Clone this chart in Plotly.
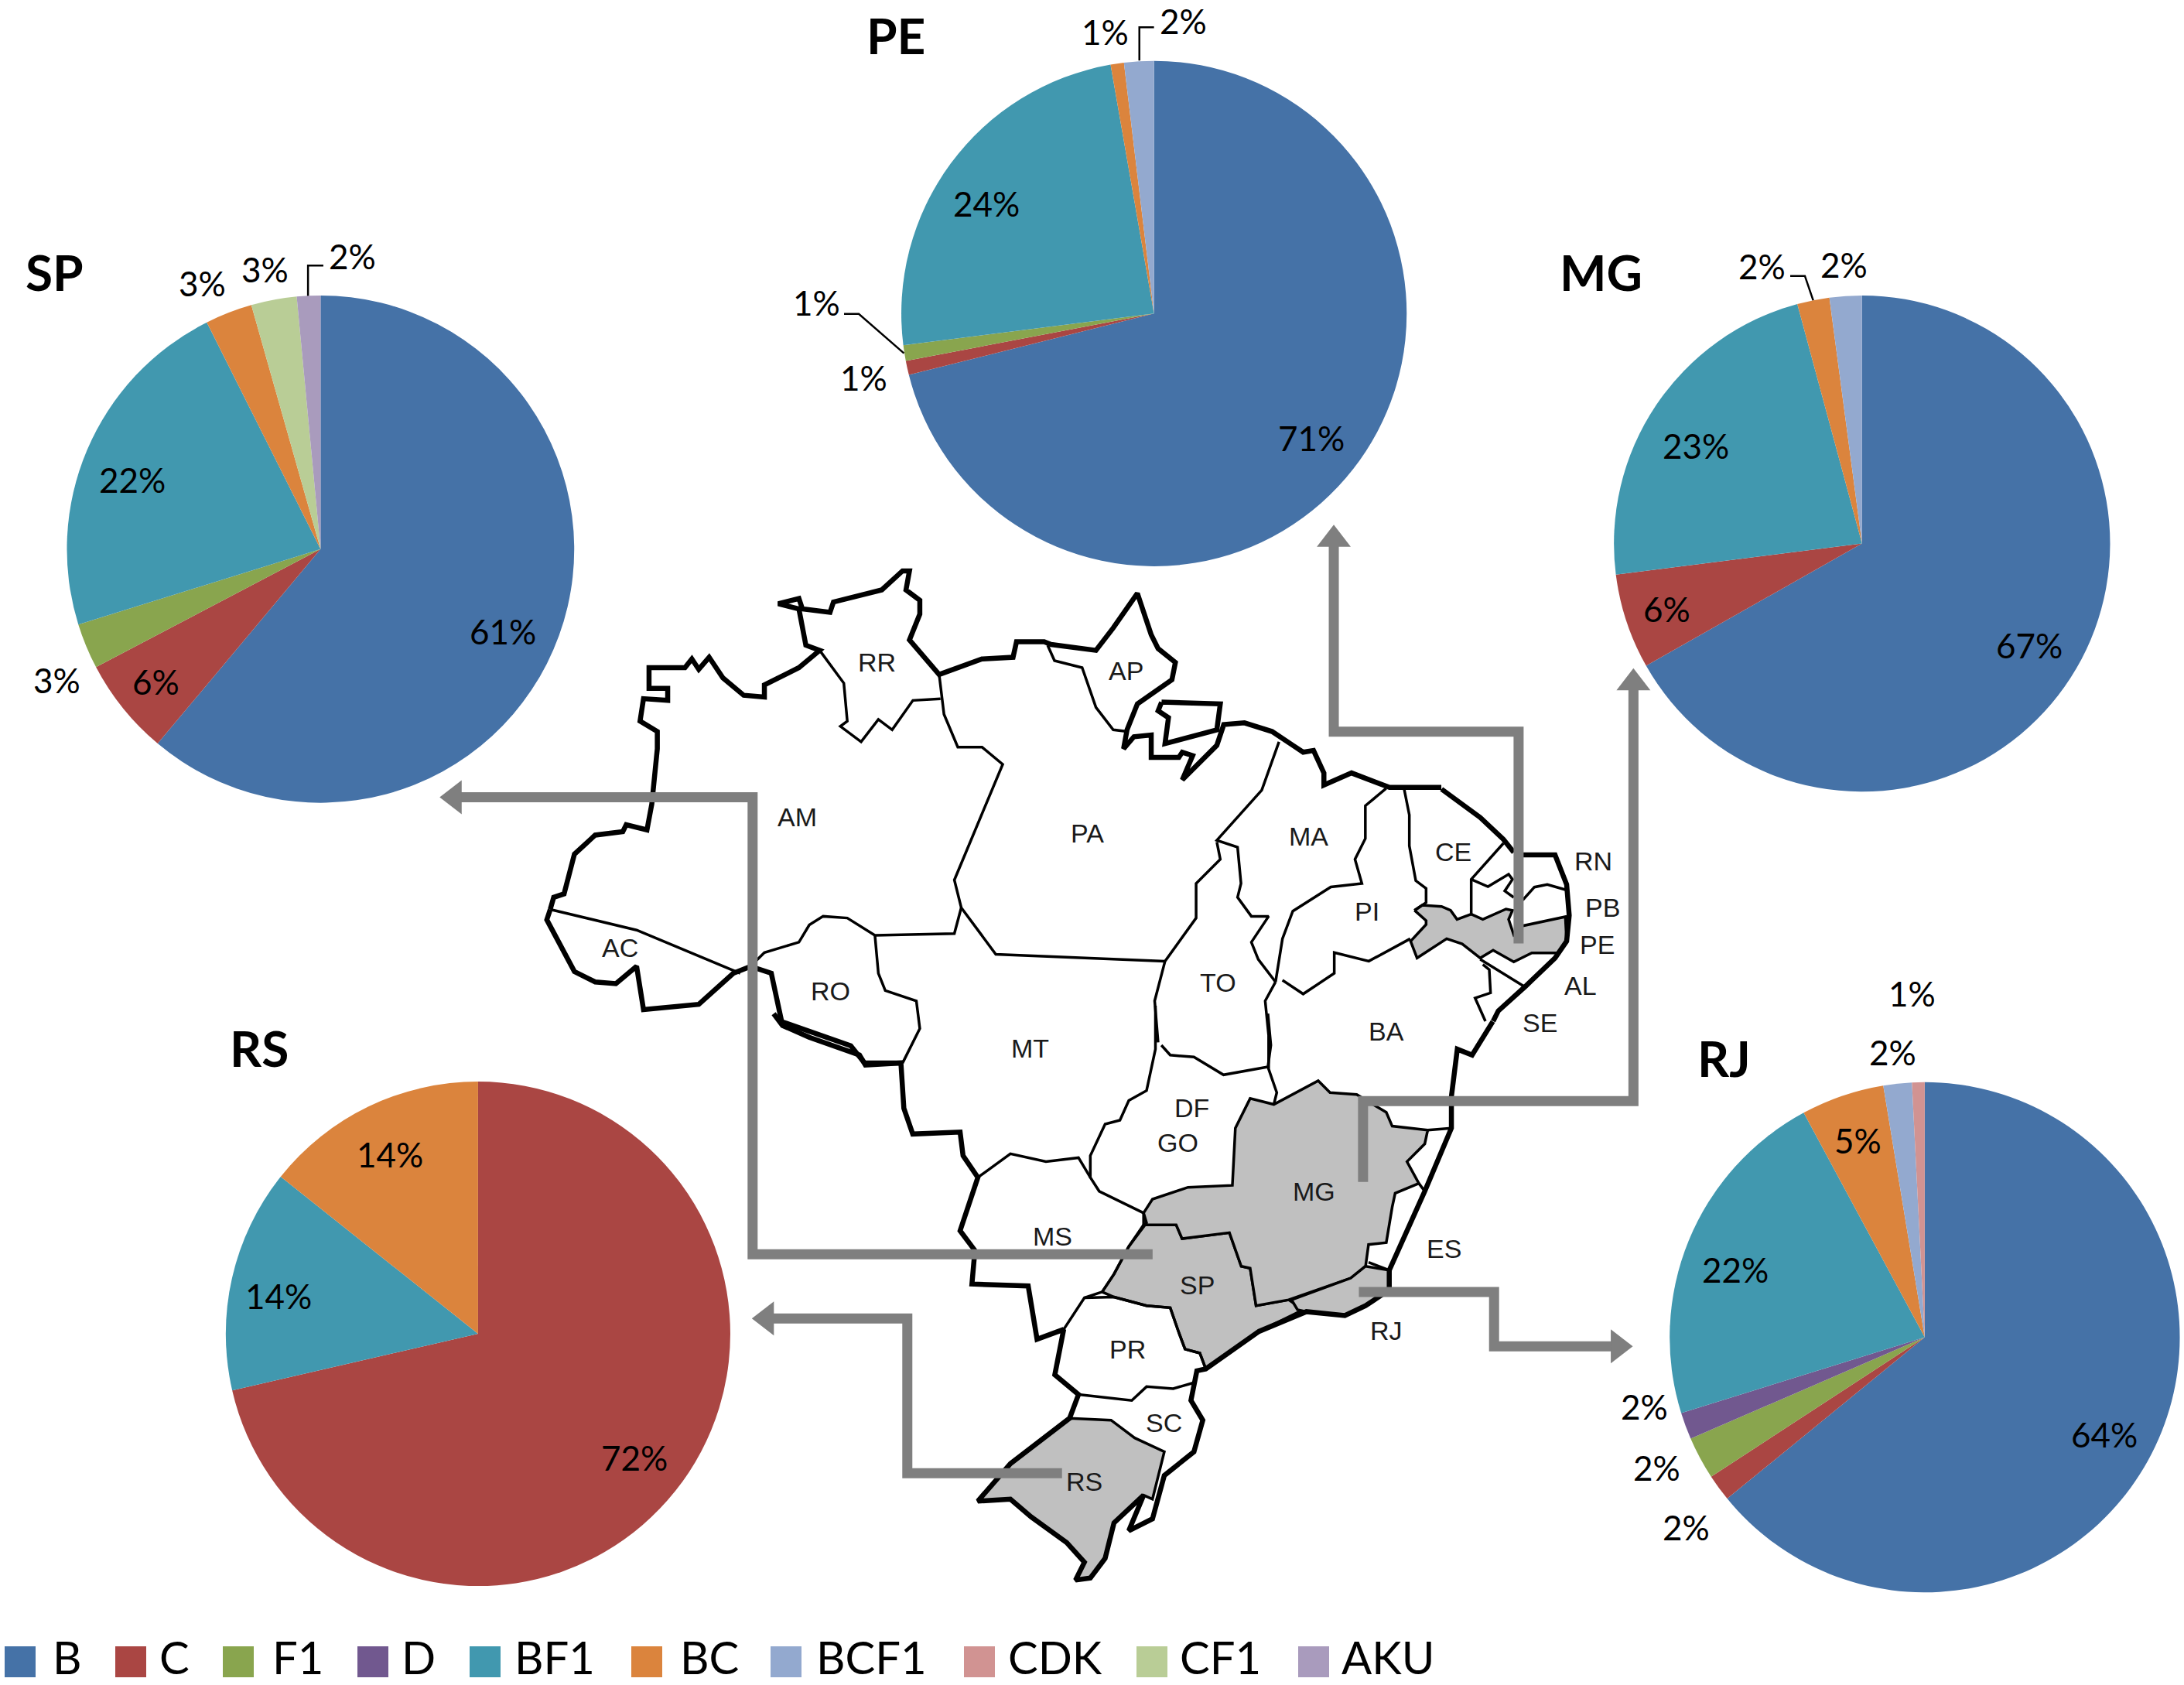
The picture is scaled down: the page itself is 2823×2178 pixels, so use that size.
import plotly.graph_objects as go

W, H = 2823, 2178
S = 1.8015  # overview coordinates to picture pixels

# Subtypes and colours
categories = ['B', 'C', 'F1', 'D', 'BF1', 'BC', 'BCF1', 'CDK', 'CF1', 'AKU']
colors = ['#4572A7', '#AA4643', '#89A54E', '#71588F', '#4198AF',
          '#DB843D', '#93A9CF', '#D19392', '#B9CD96', '#A99BBD']

# Slice sizes per state, same order as categories
sp_values = [61.1, 6.2, 2.9, 0, 22.4, 3.0, 0, 0, 2.9, 1.5]
pe_values = [71.1, 0.9, 1.0, 0, 24.25, 0.85, 1.9, 0, 0, 0]
mg_values = [66.8, 6.2, 0, 0, 22.8, 2.1, 2.1, 0, 0, 0]
rs_values = [0, 71.4, 0, 0, 14.3, 14.3, 0, 0, 0, 0]
rj_values = [64.1, 1.7, 2.7, 1.7, 21.93, 5.27, 1.8, 0.8, 0, 0]

# Percentages as printed on the chart
sp_printed = {'B': '61%', 'C': '6%', 'F1': '3%', 'BF1': '22%', 'BC': '3%', 'CF1': '3%', 'AKU': '2%'}
pe_printed = {'B': '71%', 'C': '1%', 'F1': '1%', 'BF1': '24%', 'BC': '1%', 'BCF1': '2%'}
mg_printed = {'B': '67%', 'C': '6%', 'BF1': '23%', 'BC': '2%', 'BCF1': '2%'}
rs_printed = {'C': '72%', 'BF1': '14%', 'BC': '14%'}
rj_printed = {'B': '64%', 'C': '2%', 'F1': '2%', 'D': '2%', 'BF1': '22%', 'BC': '5%', 'BCF1': '2%', 'CDK': '1%'}
printed = {'SP': sp_printed, 'PE': pe_printed, 'MG': mg_printed, 'RS': rs_printed, 'RJ': rj_printed}

# Pie placement: state, values, centre x, centre y, radius, title x, title y
pies = [
    ('SP', sp_values, 230, 394, 182, 39, 195),
    ('PE', pe_values, 828, 225, 181.3, 643, 25),
    ('MG', mg_values, 1336, 390, 178, 1149, 195),
    ('RS', rs_values, 343, 957, 181, 186, 752),
    ('RJ', rj_values, 1381, 959.5, 183, 1237, 759),
]

# Slice label positions, keyed by category
sp_labels = {'B': (361, 453), 'C': (112, 489), 'F1': (41, 488), 'BF1': (95, 344),
             'BC': (145, 203), 'CF1': (190, 193), 'AKU': (253, 184)}
pe_labels = {'B': (941, 314), 'C': (620, 271), 'F1': (586, 217), 'BF1': (708, 146),
             'BC': (793, 23), 'BCF1': (849, 14.8)}
mg_labels = {'B': (1456, 463), 'C': (1196, 437), 'BF1': (1217, 320),
             'BC': (1264, 191), 'BCF1': (1323, 190)}
rs_labels = {'C': (455, 1046), 'BF1': (200, 930), 'BC': (280, 828)}
rj_labels = {'B': (1510, 1029), 'C': (1210, 1096), 'F1': (1189, 1053), 'D': (1180, 1009),
             'BF1': (1245, 911), 'BC': (1333, 818), 'BCF1': (1358, 755), 'CDK': (1372, 713)}
label_sets = {'SP': sp_labels, 'PE': pe_labels, 'MG': mg_labels, 'RS': rs_labels, 'RJ': rj_labels}

# Leader lines (overview coordinates)
leaders = [
    [(221, 213), (221, 190.6), (232, 190.6)],
    [(648.6, 253.5), (616.2, 225.2), (605.6, 225.2)],
    [(817.5, 43.5), (817.5, 19.5), (828, 19.5)],
    [(1301, 215.6), (1295, 198), (1284.5, 198)],
]

# Legend: swatch left edge, text left edge in picture pixels
legend_swatch_x = [6, 149, 288, 462, 607, 816, 996, 1246, 1469, 1678]
legend_text_x = [66, 204, 350, 517, 663, 877, 1053, 1301, 1523, 1732]

# Gray arrows (overview coordinates), last point is the arrow tip
arrows = [
    [(827, 900), (540, 900), (540, 572), (316, 572)],
    [(1089.6, 677), (1089.6, 525), (957, 525), (957, 377)],
    [(978, 848), (978, 790), (1172, 790), (1172, 480)],
    [(975, 927), (1072, 927), (1072, 966), (1171, 966)],
    [(762, 1057), (651, 1057), (651, 946), (540, 946)],
]

# State name labels on the map (overview coordinates)
state_names = ['RR', 'AP', 'AM', 'PA', 'MA', 'CE', 'RN', 'PB', 'PI', 'PE', 'AC', 'RO', 'TO', 'AL',
               'SE', 'BA', 'MT', 'DF', 'GO', 'MG', 'MS', 'ES', 'SP', 'RJ', 'PR', 'SC', 'RS']
state_x = [629, 808, 572, 780, 939, 1043, 1143, 1150, 981, 1146, 445, 596, 874, 1134,
           1105, 995, 739, 855, 845, 943, 755, 1036, 859, 995, 809, 835, 778]
state_y = [475, 481, 586, 598, 600, 611, 618, 651, 654, 678, 680, 711, 705, 707,
           734, 740, 752, 795, 820, 855, 887, 896, 922, 955, 968, 1021, 1063]


def north(pts):
    return [(680 + x / 1.12, 700 + y / 2.24) for x, y in pts]


def south(pts):
    return [(1000 + x / 1.307, 1300 + y / 1.96) for x, y in pts]


def east(pts):
    return [(1780 + x / 3, 1020 + y / 3) for x, y in pts]


# Filled states
gray_states = [
    east([(145, 470), (175, 450), (250, 455), (285, 470), (310, 505), (365, 485), (410, 505), (500, 465), (525, 470),
          (510, 505), (530, 565), (565, 530), (730, 495), (735, 590), (700, 635), (600, 635), (530, 670), (450, 625),
          (400, 655), (330, 600), (270, 580), (155, 655), (130, 590), (190, 525), (190, 510), (145, 470)]),
    south([(625, 555), (680, 555), (690, 590), (770, 575), (790, 660), (805, 665), (815, 760), (870, 745),
           (895, 770), (820, 825), (730, 920), (720, 880), (695, 870), (685, 830), (670, 765), (630, 760),
           (575, 738), (555, 725), (575, 680), (600, 610), (625, 555)]),
    south([(625, 525), (640, 490), (700, 460), (775, 455), (780, 310), (805, 235), (845, 250), (920, 190),
           (940, 220), (985, 225), (1035, 270), (1045, 305), (1105, 315), (1100, 350), (1070, 395), (1090, 450),
           (1050, 475), (1045, 510), (1035, 600), (1005, 605), (1000, 660), (975, 690), (870, 745), (815, 760),
           (805, 665), (790, 660), (770, 575), (690, 590), (680, 555), (625, 555), (625, 525)]),
    south([(1000, 660), (1040, 670), (1040, 720), (1000, 760), (965, 785), (900, 775), (885, 770), (875, 745),
           (975, 690), (1000, 660)]),
    south([(500, 1045), (570, 1050), (610, 1095), (660, 1130), (650, 1190), (640, 1250), (625, 1240), (575, 1310),
           (560, 1400), (535, 1450), (510, 1455), (525, 1410), (495, 1360), (435, 1295), (400, 1250), (345, 1255),
           (400, 1160), (500, 1045)]),
]

# Outer border, drawn heavy
thick_lines = [
    north([(35, 1065), (40, 1030), (55, 1020), (62, 960), (70, 905), (100, 850), (140, 840), (145, 820), (175, 835),
           (182, 760), (190, 600), (190, 550), (165, 520), (170, 455), (205, 460), (205, 425), (178, 425), (178, 365),
           (230, 365), (240, 340), (250, 370), (265, 335), (285, 395), (315, 445), (345, 450), (345, 415), (395, 365),
           (425, 315), (405, 300), (395, 195), (365, 180), (395, 165), (400, 195), (440, 205), (445, 175), (515, 140),
           (545, 85), (555, 85), (550, 140), (570, 170), (570, 210), (555, 285), (598, 385), (660, 340), (705, 335),
           (710, 290), (750, 290), (760, 298), (825, 315), (850, 250), (885, 150), (905, 270), (915, 310), (940, 350),
           (935, 400), (885, 470), (870, 545), (865, 600), (880, 565), (905, 560), (905, 625), (945, 625), (950, 610),
           (965, 620), (950, 690), (1000, 590), (1010, 530), (1040, 525), (1080, 550), (1110, 590), (1125, 610),
           (1140, 605), (1155, 670), (1155, 705), (1195, 670), (1250, 712), (1325, 712)]),
    north([(920, 465), (1005, 470), (1000, 545), (925, 585), (930, 510), (915, 490), (920, 465)]),
    east([(250, 0), (400, 110), (490, 195), (530, 245)]),
    east([(565, 255), (690, 255), (735, 370), (745, 490), (735, 590), (690, 655), (575, 765), (470, 860), (450, 900)]),
    south([(1215, 40), (1180, 125), (1155, 110), (1145, 230), (1145, 310), (1100, 470), (1040, 670), (1040, 720),
           (1000, 760), (965, 785), (900, 775), (820, 825), (730, 920), (715, 925), (705, 1000), (725, 1050), (710, 1130),
           (660, 1190), (640, 1300), (600, 1330), (625, 1240), (575, 1310), (560, 1400), (535, 1450), (510, 1455),
           (525, 1410), (495, 1360), (435, 1295), (400, 1250), (345, 1255), (400, 1160), (500, 1045), (515, 985),
           (475, 935), (490, 820), (445, 845), (430, 710), (335, 705), (340, 620), (315, 570), (345, 435), (320, 380),
           (315, 320), (235, 325), (220, 260), (215, 145), (155, 150), (145, 125), (60, 80), (15, 50), (0, 20)]),
    north([(545, 1510), (490, 1510), (470, 1460), (370, 1390), (355, 1250), (325, 1230), (300, 1250), (250, 1340),
           (170, 1355), (160, 1230), (130, 1280), (100, 1275), (70, 1245), (30, 1095), (35, 1065)]),
]

# State borders, drawn thin
thin_lines = [
    north([(325, 1230), (345, 1190), (395, 1160), (410, 1110), (430, 1085), (465, 1090), (505, 1140), (620, 1135), (630, 1060)]),
    north([(35, 1065), (160, 1125), (310, 1250)]),
    north([(505, 1140), (510, 1250), (520, 1300), (565, 1330), (570, 1410), (545, 1510)]),
    north([(598, 385), (605, 500), (625, 595), (660, 595), (690, 645), (620, 980), (630, 1060), (680, 1195), (925, 1215)]),
    north([(425, 315), (460, 410), (465, 520), (455, 535), (485, 580), (510, 515), (530, 545), (560, 460), (600, 455)]),
    north([(755, 300), (765, 345), (805, 365), (825, 480), (850, 545), (870, 550)]),
    north([(1090, 580), (1065, 720), (1000, 865), (1030, 885), (1035, 990), (1030, 1030), (1050, 1085), (1075, 1085),
           (1050, 1160), (1060, 1210), (1085, 1275)]),
    north([(1000, 870), (1005, 920), (970, 990), (970, 1090), (925, 1215), (910, 1330), (915, 1450)]),
    north([(1075, 1525), (1075, 1430), (1070, 1330), (1085, 1275)]),
    north([(1085, 1275), (1095, 1150), (1110, 1070), (1165, 1000), (1210, 990), (1200, 920), (1215, 860), (1215, 765), (1245, 715)]),
    north([(1095, 1270), (1125, 1310), (1170, 1250), (1170, 1190), (1220, 1215), (1280, 1150)]),
    east([(105, 0), (125, 100), (125, 220), (150, 355), (190, 385), (190, 440), (145, 470)]),
    east([(490, 210), (365, 350), (365, 490)]),
    east([(365, 350), (430, 378), (510, 330), (525, 350), (495, 395), (530, 420)]),
    east([(565, 430), (610, 380), (660, 370), (730, 390)]),
    east([(400, 660), (570, 765)]),
    east([(410, 680), (435, 700), (440, 790), (380, 810), (420, 900)]),
    south([(645, 0), (645, 110), (630, 215), (600, 240), (585, 290), (560, 300), (535, 380), (535, 435), (550, 470), (625, 525)]),
    south([(655, 100), (670, 125), (710, 130), (760, 175), (835, 155), (840, 100), (835, 20)]),
    south([(835, 155), (850, 220), (845, 250)]),
    south([(345, 435), (400, 375), (460, 395), (515, 385), (535, 435)]),
    south([(625, 525), (630, 550), (600, 610), (575, 680), (555, 725), (525, 740), (490, 820)]),
    south([(525, 740), (575, 738), (630, 760), (670, 765), (685, 830), (695, 870), (720, 880), (730, 920)]),
    south([(515, 985), (605, 1000), (630, 965), (675, 970), (710, 955)]),
    south([(1105, 315), (1145, 310)]),
    south([(1090, 450), (1100, 470)]),
    south([(1005, 650), (1040, 670)]),
]

GRAY = '#7F7F7F'
fig = go.Figure()


def add_line(pts, width, color='black', fill=None):
    fig.add_trace(go.Scatter(
        x=[p[0] for p in pts], y=[p[1] for p in pts], mode='lines',
        line=dict(color=color, width=width), fill=fill,
        fillcolor='#C0C0C0' if fill else None, hoverinfo='skip', showlegend=False))


# Map
for poly in gray_states:
    add_line(poly, 3.5, fill='toself')
for line in thin_lines:
    add_line(line, 3.5)
for line in thick_lines:
    add_line(line, 6.5)

# Pies
for state, values, cx, cy, r, tx, ty in pies:
    fig.add_trace(go.Pie(
        labels=categories, values=values, sort=False, direction='clockwise', rotation=0,
        marker=dict(colors=colors, line=dict(width=0)), textinfo='none', showlegend=False,
        domain=dict(x=[(cx - r) * S / W, (cx + r) * S / W], y=[1 - (cy + r) * S / H, 1 - (cy - r) * S / H])))
    fig.add_annotation(x=tx * S, y=ty * S, text='<b>%s</b>' % state, showarrow=False,
                       font=dict(family='Lato', size=64, color='black'))
    for cat, (lx, ly) in label_sets[state].items():
        fig.add_annotation(x=lx * S, y=ly * S, text=printed[state][cat], showarrow=False,
                           font=dict(family='Lato', size=44, color='black'))

# Slice leader lines
for pts in leaders:
    add_line([(x * S, y * S) for x, y in pts], 2.5)

# Arrows
for pts in arrows:
    xy = [(x * S, y * S) for x, y in pts]
    (x0, y0), (x1, y1) = xy[-2], xy[-1]
    if x1 == x0:
        sym = 'triangle-up' if y1 < y0 else 'triangle-down'
        dx, dy = 0, (18 if y1 < y0 else -18)
    else:
        sym = 'triangle-left' if x1 < x0 else 'triangle-right'
        dx, dy = (18 if x1 < x0 else -18), 0
    add_line(xy[:-1] + [(x1 + dx, y1 + dy)], 13, color=GRAY)
    fig.add_trace(go.Scatter(x=[x1 + dx], y=[y1 + dy], mode='markers',
                             marker=dict(symbol=sym, size=38, color=GRAY, line=dict(width=0)),
                             hoverinfo='skip', showlegend=False))

# State names
for name, x, y in zip(state_names, state_x, state_y):
    fig.add_annotation(x=x * S, y=y * S, text=name, showarrow=False,
                       font=dict(family='Liberation Sans', size=34, color='#1a1a1a'))

# Legend
for cat, col, sx, tx in zip(categories, colors, legend_swatch_x, legend_text_x):
    fig.add_shape(type='rect', x0=sx, x1=sx + 40, y0=2128, y1=2168, fillcolor=col, line=dict(width=0))
    fig.add_annotation(x=tx, y=2141, text=cat, showarrow=False, xanchor='left',
                       font=dict(family='Lato', size=58, color='black'))

fig.update_xaxes(range=[0, W], visible=False, fixedrange=True)
fig.update_yaxes(range=[H, 0], visible=False, fixedrange=True)
fig.update_layout(width=W, height=H, margin=dict(l=0, r=0, t=0, b=0),
                  paper_bgcolor='white', plot_bgcolor='white', showlegend=False)
fig.write_html("out.html", config=dict(displayModeBar=False),
               post_script="document.body.style.margin='0';")
